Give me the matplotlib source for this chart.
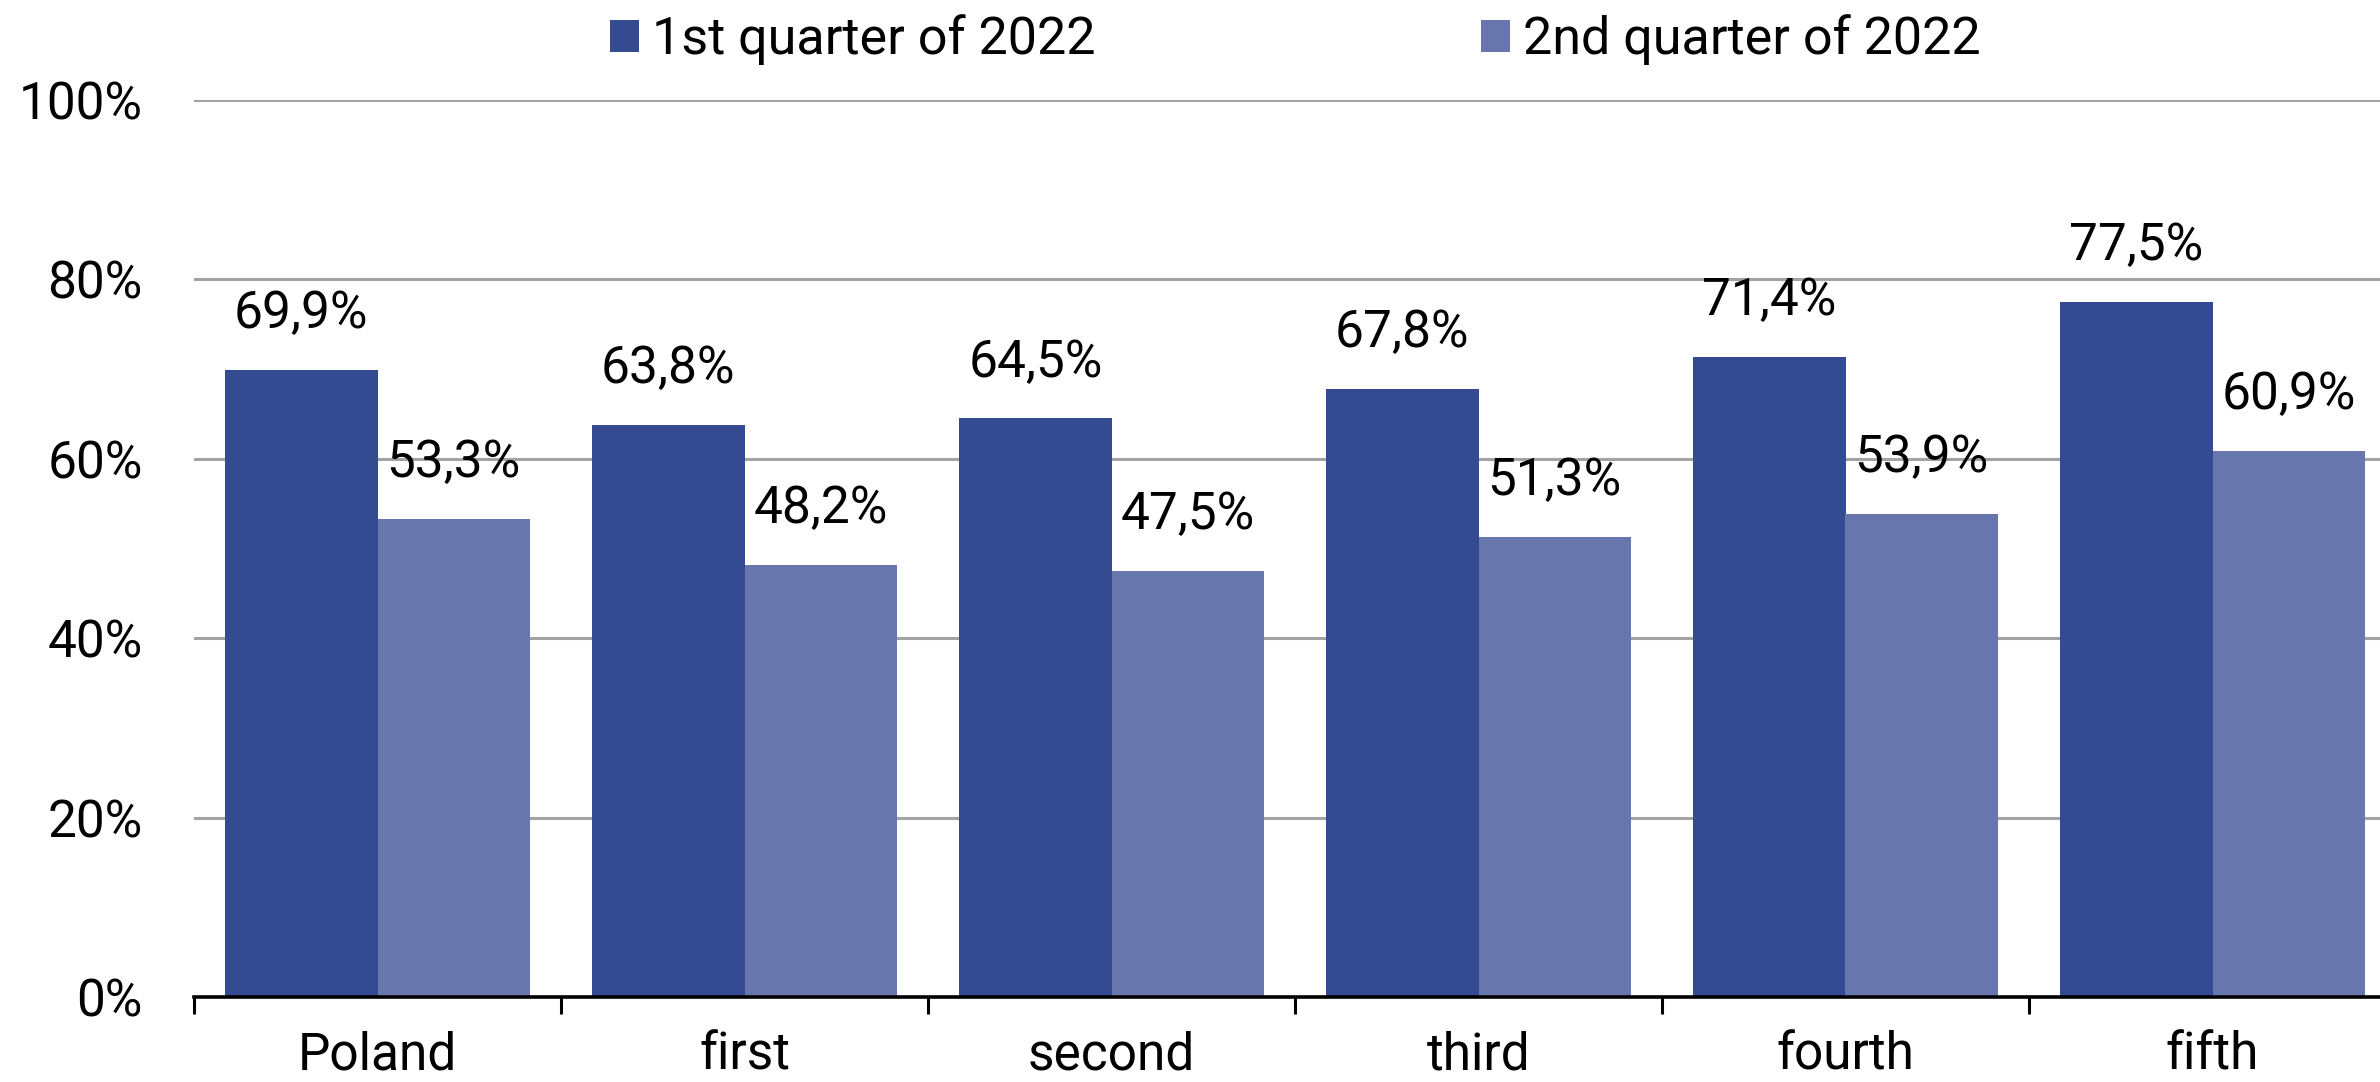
import matplotlib
matplotlib.use("Agg")
import matplotlib.pyplot as plt
import matplotlib.ticker as mticker
from matplotlib.patches import Patch
import numpy as np

plt.rcParams['font.family'] = ['Roboto', 'DejaVu Sans']

categories = ["Poland", "first", "second", "third", "fourth", "fifth"]
q1_2022 = [69.9, 63.8, 64.5, 67.8, 71.4, 77.5]
q2_2022 = [53.3, 48.2, 47.5, 51.3, 53.9, 60.9]
series_names = ["1st quarter of 2022", "2nd quarter of 2022"]
yticks = [0, 20, 40, 60, 80, 100]

dark = '#344b91'
light = '#6777ad'

fig = plt.figure(figsize=(23.8, 10.82), dpi=100)
# axes runs a little past the right edge, like the original
ax = fig.add_axes([194 / 2380, 1 - 997 / 1082, 2202 / 2380, 897 / 1082])

x = np.arange(len(categories))
w = 0.415
b1 = ax.bar(x - w / 2, q1_2022, w, color=dark, zorder=3)
b2 = ax.bar(x + w / 2, q2_2022, w, color=light, zorder=3)

# data labels, comma as decimal mark
for bars, vals in [(b1, q1_2022), (b2, q2_2022)]:
    for r, v in zip(bars, vals):
        ax.annotate(f"{v:.1f}%".replace('.', ','),
                    (r.get_x() + r.get_width() / 2, r.get_height()),
                    xytext=(0, 30), textcoords='offset points',
                    ha='center', va='baseline', fontsize=37, color='black')

ax.set_xlim(-0.5, len(categories) - 0.5)
ax.set_ylim(0, 100)
ax.set_yticks(yticks)
ax.yaxis.set_major_formatter(mticker.FuncFormatter(lambda v, p: f"{v:.0f}%"))
ax.tick_params(axis='y', length=0, pad=37, labelsize=37)
ax.yaxis.grid(True, color='#a3a3a3', linewidth=2.2, zorder=0)
ax.set_axisbelow(True)

# category boundaries get the tick marks, labels sit in the middle
ax.set_xticks(np.arange(-0.5, len(categories), 1.0))
ax.set_xticklabels([])
ax.set_xticks(x, minor=True)
ax.set_xticklabels(categories, minor=True)
ax.tick_params(axis='x', which='major', direction='out', length=12, width=2.2, color='black')
ax.tick_params(axis='x', which='minor', length=0, pad=24, labelsize=37)

for s in ['top', 'right', 'left']:
    ax.spines[s].set_visible(False)
ax.spines['bottom'].set_linewidth(2.6)
ax.spines['bottom'].set_color('black')
ax.spines['bottom'].set_zorder(4)

handles = [Patch(facecolor=dark), Patch(facecolor=light)]
ax.legend(handles, series_names, loc='center', bbox_to_anchor=(0.5, 1.067),
          ncol=2, frameon=False, fontsize=37.5, handlelength=0.56, handleheight=0.56,
          columnspacing=7.4, handletextpad=0.25, borderaxespad=0)

fig.savefig("out.png", dpi=100)
